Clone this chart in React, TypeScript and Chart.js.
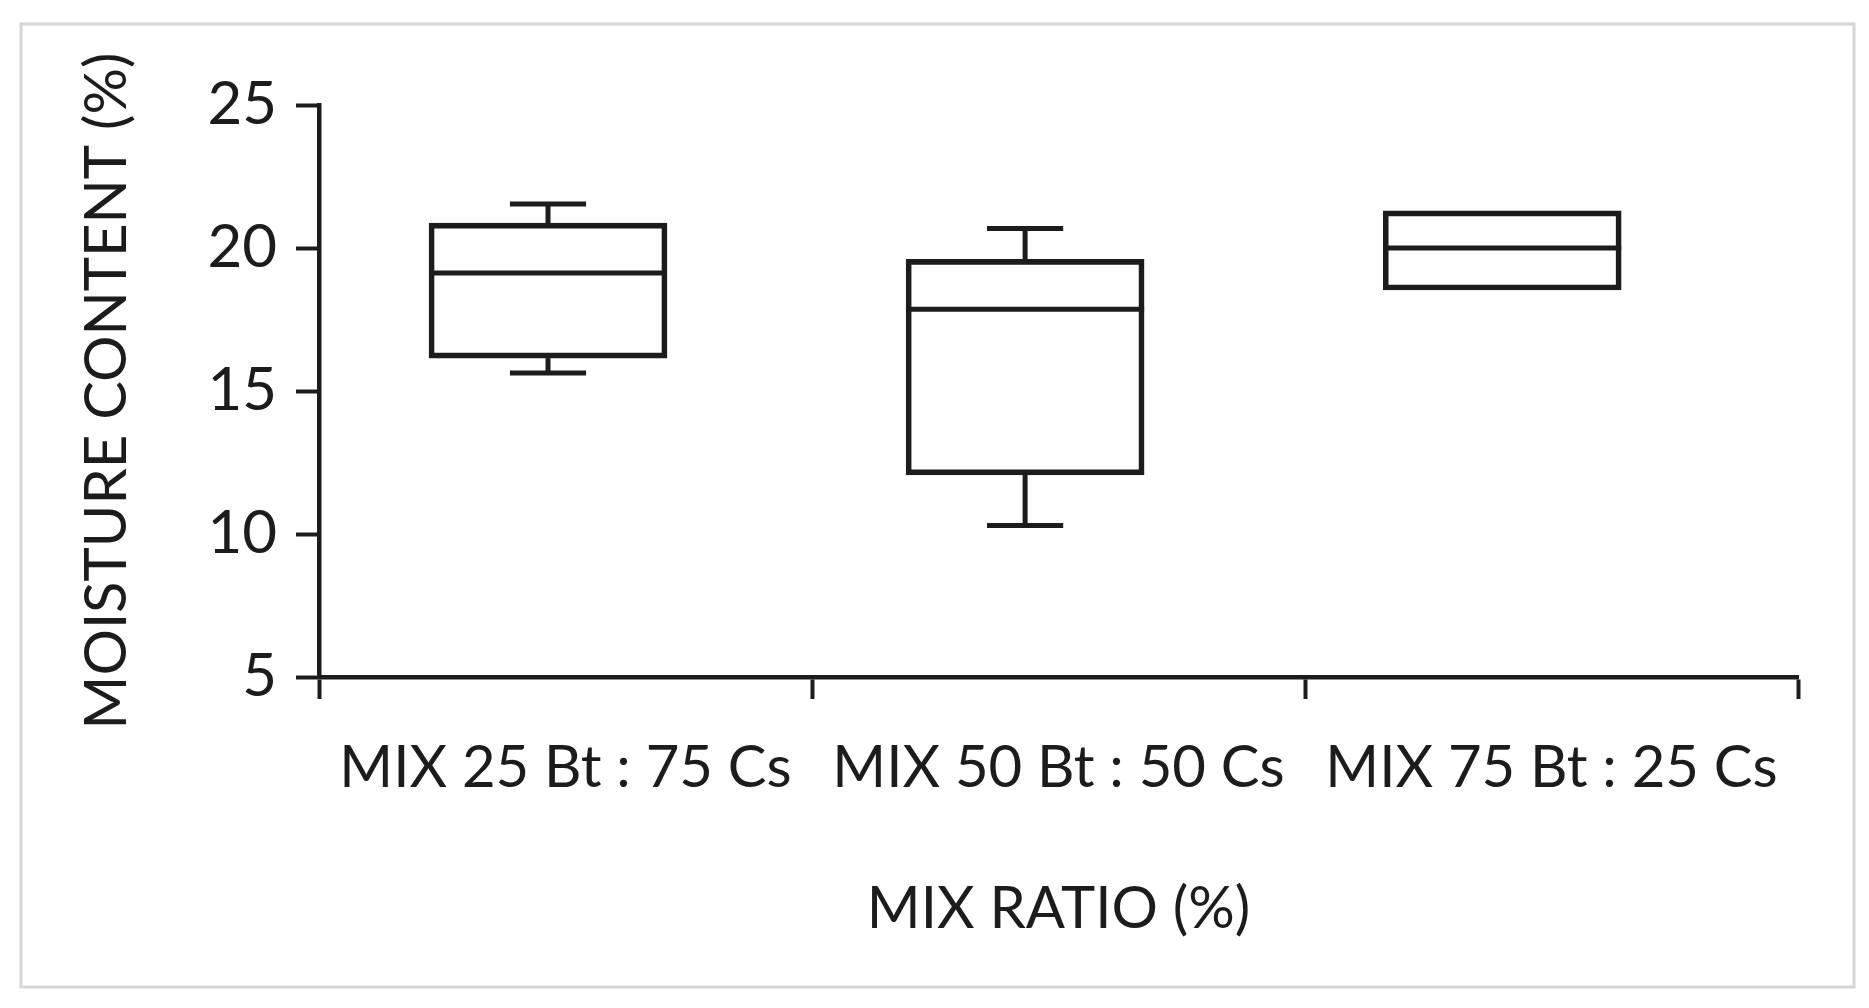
import React, { useEffect, useRef } from 'react';
import { Chart, registerables } from 'chart.js';

Chart.register(...registerables);

// box plot values
const categories = ['MIX 25 Bt : 75 Cs', 'MIX 50 Bt : 50 Cs', 'MIX 75 Bt : 25 Cs'];
const whiskerLow = [15.63, 10.3, 18.53];
const quartile1 = [16.15, 12.07, 18.53];
const medians = [19.13, 17.86, 20.0];
const quartile3 = [20.87, 19.6, 21.3];
const whiskerHigh = [21.54, 20.68, 21.3];
const yTicks = [5, 10, 15, 20, 25];

const FONT = 'Lato, "Open Sans", sans-serif';
const INK = '#1c1c1c';
const LINE = 5;

// median line + whiskers on top of the floating bars
const boxWhiskerPlugin = {
  id: 'boxWhiskers',
  afterDatasetsDraw(chart: any) {
    const meta = chart.getDatasetMeta(0);
    const y = chart.scales.y;
    const ctx = chart.ctx;
    ctx.save();
    ctx.strokeStyle = INK;
    ctx.lineWidth = LINE;
    ctx.lineCap = 'butt';
    meta.data.forEach((bar: any, i: number) => {
      const half = bar.width / 2;
      const cap = bar.width * 0.16;
      const x = bar.x;
      const line = (x1: number, y1: number, x2: number, y2: number) => {
        ctx.beginPath();
        ctx.moveTo(x1, y1);
        ctx.lineTo(x2, y2);
        ctx.stroke();
      };
      const ym = y.getPixelForValue(medians[i]);
      line(x - half, ym, x + half, ym);
      if (whiskerHigh[i] > quartile3[i]) {
        const yt = y.getPixelForValue(quartile3[i]);
        const yh = y.getPixelForValue(whiskerHigh[i]);
        line(x, yt, x, yh);
        line(x - cap, yh, x + cap, yh);
      }
      if (whiskerLow[i] < quartile1[i]) {
        const yb = y.getPixelForValue(quartile1[i]);
        const yl = y.getPixelForValue(whiskerLow[i]);
        line(x, yb, x, yl);
        line(x - cap, yl, x + cap, yl);
      }
    });
    ctx.restore();
  },
};

// thin grey frame round the whole figure
const framePlugin = {
  id: 'frame',
  beforeDraw(chart: any) {
    const ctx = chart.ctx;
    ctx.save();
    ctx.fillStyle = '#ffffff';
    ctx.fillRect(0, 0, chart.width, chart.height);
    ctx.strokeStyle = '#d6d6d6';
    ctx.lineWidth = 3;
    ctx.strokeRect(21, 24, 1833, 963);
    ctx.restore();
  },
};

const App: React.FC = () => {
  const chartRef = useRef<HTMLCanvasElement>(null);
  const chartInstance = useRef<Chart | null>(null);

  useEffect(() => {
    document.body.style.margin = '0';
    if (chartRef.current) {
      if (chartInstance.current) {
        chartInstance.current.destroy();
      }
      const ctx = chartRef.current.getContext('2d');
      if (ctx) {
        chartInstance.current = new Chart(ctx, {
          type: 'bar',
          data: {
            labels: categories,
            datasets: [
              {
                label: 'Moisture content',
                xAxisID: 'xb',
                data: categories.map((_, i) => ({ x: i, y: [quartile1[i], quartile3[i]] })) as any,
                backgroundColor: 'rgba(0,0,0,0)',
                borderColor: INK,
                borderWidth: LINE,
                borderSkipped: false,
                barThickness: 238,
              },
            ],
          },
          options: {
            responsive: false,
            animation: false,
            devicePixelRatio: 1,
            layout: { padding: { top: 105, right: 71, bottom: 0, left: 0 } },
            plugins: {
              legend: { display: false },
              tooltip: { enabled: false },
            },
            scales: {
              x: {
                type: 'category',
                offset: true,
                afterFit: (scale: any) => {
                  scale.height = 331;
                },
                grid: {
                  offset: true,
                  drawOnChartArea: false,
                  drawTicks: true,
                  tickLength: 22,
                  tickWidth: 4,
                  tickColor: INK,
                },
                border: { display: true, color: INK, width: 4.5 },
                ticks: {
                  color: INK,
                  padding: 34,
                  maxRotation: 0,
                  font: { family: FONT, size: 58 },
                },
                title: {
                  display: true,
                  text: 'MIX RATIO (%)',
                  color: INK,
                  padding: { top: 0, bottom: 64 },
                  font: { family: FONT, size: 58 },
                },
              },
              xb: {
                type: 'linear',
                display: false,
                offset: false,
                min: -0.48,
                max: 2.62,
              },
              y: {
                type: 'linear',
                min: 5,
                max: 25,
                afterFit: (scale: any) => {
                  scale.width = 319;
                },
                afterBuildTicks: (scale: any) => {
                  scale.ticks = yTicks.map((v) => ({ value: v }));
                },
                grid: {
                  drawOnChartArea: false,
                  drawTicks: true,
                  tickLength: 23,
                  tickWidth: 4,
                  tickColor: INK,
                },
                border: { display: true, color: INK, width: 4.5 },
                ticks: {
                  color: INK,
                  padding: 19,
                  font: { family: FONT, size: 60 },
                },
                title: {
                  display: true,
                  text: 'MOISTURE CONTENT (%)',
                  color: INK,
                  padding: { top: 72, bottom: 0 },
                  font: { family: FONT, size: 58 },
                },
              },
            },
          },
          plugins: [framePlugin, boxWhiskerPlugin],
        });
      }
    }
    return () => {
      if (chartInstance.current) {
        chartInstance.current.destroy();
        chartInstance.current = null;
      }
    };
  }, []);

  return (
    <div style={{ position: 'absolute', left: 0, top: 0, width: 1869, height: 1008 }}>
      <canvas ref={chartRef} width={1869} height={1008} />
    </div>
  );
};

export default App;
